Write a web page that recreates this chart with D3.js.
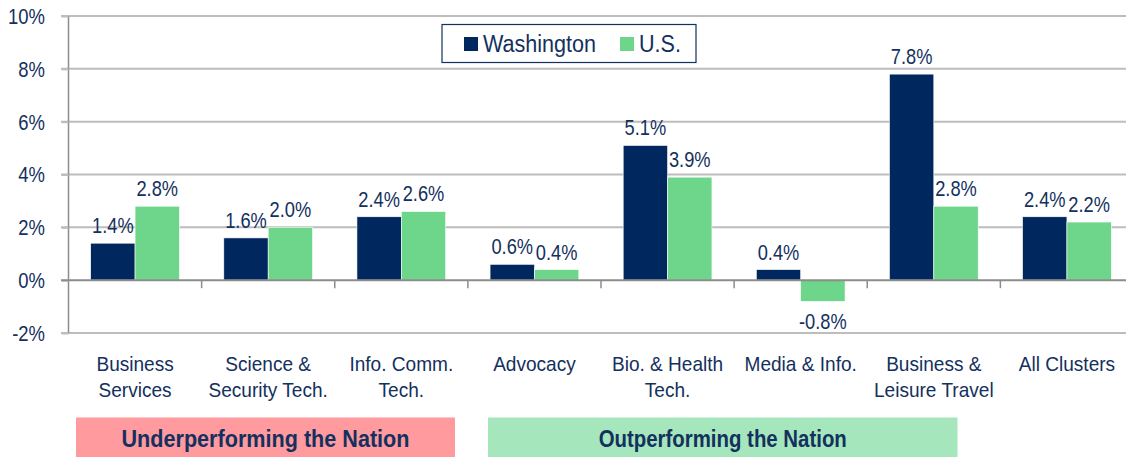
<!DOCTYPE html>
<html><head><meta charset="utf-8">
<script src="https://cdn.jsdelivr.net/npm/d3@7"></script>
<style>
html,body{margin:0;padding:0;background:#fff;}
svg{display:block;}
text{font-family:"Liberation Sans",Arial,sans-serif;fill:#13305e;}
</style></head>
<body>
<svg id="chart" width="1126" height="457"></svg>
<script>
const categories = [["Business","Services"],["Science &","Security Tech."],["Info. Comm.","Tech."],["Advocacy"],["Bio. & Health","Tech."],["Media & Info."],["Business &","Leisure Travel"],["All Clusters"]];
const seriesNames = ["Washington","U.S."];
const washington = [1.4,1.6,2.4,0.6,5.1,0.4,7.8,2.4];
const us = [2.8,2.0,2.6,0.4,3.9,-0.8,2.8,2.2];
const yTicks = [-2,0,2,4,6,8,10];
const colors = ["#00285e","#6dd68b"];
const bannerTexts = ["Underperforming the Nation","Outperforming the Nation"];
const bannerColors = ["#ff9a9e","#a6e6bc"];

const svg = d3.select("#chart");
const catIdx = categories.map((c,i)=>i);
const x = d3.scaleBand().domain(catIdx).range([68.5,1133.5]).paddingInner(0).paddingOuter(0);
const x1 = d3.scaleBand().domain(seriesNames).range([0,x.bandwidth()]).paddingInner(0).paddingOuter(0.5);
const y = d3.scaleLinear().domain([-2,10]).range([333,16]);

// gridlines
svg.append("g").selectAll("line").data(yTicks.filter(t=>t!==0)).join("line")
  .attr("x1",61).attr("x2",1126).attr("y1",d=>y(d)).attr("y2",d=>y(d))
  .attr("stroke","#bdbdbd").attr("stroke-width",2);

// y axis
const yAxis = d3.axisLeft(y).tickValues(yTicks).tickFormat("").tickSize(7);
const ya = svg.append("g").attr("transform","translate(68.5,0)").call(yAxis);
ya.select(".domain").attr("stroke","#8c8c8c").attr("stroke-width",1.5).attr("d","M0,"+y(10)+"V"+y(-2));
ya.selectAll(".tick line").attr("stroke","#bdbdbd").attr("stroke-width",2);
ya.selectAll(".tick text").remove();
svg.append("g").selectAll("text").data(yTicks).join("text")
  .attr("transform",d=>`translate(45,${y(d)}) scale(0.84,1)`)
  .attr("text-anchor","end").attr("dy","0.36em").attr("font-size","22px")
  .text(d=>d+"%");

// bars
const data = catIdx.map(i=>({i, vals:[{s:seriesNames[0],v:washington[i],c:colors[0]},{s:seriesNames[1],v:us[i],c:colors[1]}]}));
const groups = svg.append("g").selectAll("g").data(data).join("g").attr("transform",d=>`translate(${x(d.i)},0)`);
groups.selectAll("rect").data(d=>d.vals).join("rect")
  .attr("x",d=>x1(d.s)).attr("width",x1.bandwidth())
  .attr("y",d=>y(Math.max(0,d.v))).attr("height",d=>Math.abs(y(d.v)-y(0)))
  .attr("fill",d=>d.c).attr("stroke","#ffffff").attr("stroke-width",0.6);

// x axis (zero line)
const xAxis = d3.axisBottom(x).tickSize(0).tickFormat("");
const xa = svg.append("g").attr("transform",`translate(0,${y(0)})`).call(xAxis);
xa.select(".domain").attr("stroke","#8c8c8c").attr("stroke-width",2).attr("d","M61,0H1126");
xa.selectAll(".tick").remove();
svg.append("g").selectAll("line").data(catIdx.slice(1)).join("line")
  .attr("x1",d=>x(d)).attr("x2",d=>x(d)).attr("y1",y(0)).attr("y2",y(0)+8)
  .attr("stroke","#8c8c8c").attr("stroke-width",1.5);

// value labels
groups.selectAll("text.val").data(d=>d.vals).join("text").attr("class","val")
  .attr("transform",d=>`translate(${x1(d.s)+x1.bandwidth()/2},${d.v>=0 ? y(d.v)-10 : y(d.v)+28}) scale(0.83,1)`)
  .attr("text-anchor","middle").attr("font-size","22px")
  .text(d=>d.v.toFixed(1)+"%");

// category labels
const cl = svg.append("g").selectAll("text").data(catIdx).join("text")
  .attr("transform",d=>`translate(${x(d)+x.bandwidth()/2},370.5) scale(0.93,1)`)
  .attr("text-anchor","middle").attr("font-size","20.5px");
cl.selectAll("tspan").data(d=>categories[d]).join("tspan")
  .attr("x",0).attr("dy",(d,i)=>i===0?0:27).text(d=>d);

// legend
const lg = svg.append("g");
lg.append("rect").attr("x",442).attr("y",24.5).attr("width",254).attr("height",38).attr("fill","#fff").attr("stroke","#13305e").attr("stroke-width",1.2);
const lx = [464,620];
seriesNames.forEach((s,i)=>{
  lg.append("rect").attr("x",lx[i]).attr("y",37).attr("width",14).attr("height",14).attr("fill",colors[i]);
  lg.append("text").attr("transform",`translate(${lx[i]+19},52) scale(0.88,1)`).attr("font-size","24.5px").text(s);
});

// banners
const bx = [[76,455],[488,957.5]];
const bScale = [0.9,0.85];
bannerTexts.forEach((t,i)=>{
  const [x0,x2] = bx[i];
  svg.append("rect").attr("x",x0).attr("y",417.5).attr("width",x2-x0).attr("height",40).attr("fill",bannerColors[i]);
  svg.append("text").attr("transform",`translate(${(x0+x2)/2},447) scale(${bScale[i]},1)`).attr("text-anchor","middle").attr("font-size","24px").attr("font-weight","bold").text(t);
});
</script>
</body></html>
